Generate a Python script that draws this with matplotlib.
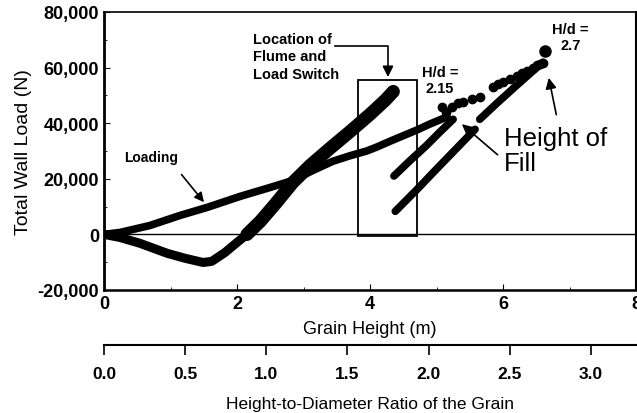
import matplotlib.pyplot as plt
from matplotlib.patches import Rectangle
from matplotlib.ticker import MultipleLocator, FuncFormatter, FixedLocator

plt.rcParams['font.family'] = ['Liberation Sans', 'DejaVu Sans']

# bin diameter (m), used for the H/d scale
diam = 2.44

# loading branch (upper), grain height (m) vs wall load (N)
load_x = [0.0, 0.24, 0.69, 1.14, 1.55, 2.05, 2.50, 2.84, 3.14, 3.44, 3.70, 3.95, 4.11, 4.30, 4.45, 4.71, 4.90, 5.01, 5.16]
load_y = [0, 700, 3200, 6800, 9700, 13700, 16900, 19400, 23000, 26300, 28300, 30000, 31500, 33500, 35000, 37600, 39700, 40800, 42300]

# sparse points after the switch (H/d 2.15 -> 2.7)
fill_x = [5.08, 5.14, 5.23, 5.32, 5.40, 5.53, 5.65, 5.85, 5.92, 6.00, 6.11, 6.21, 6.29, 6.36, 6.45, 6.51, 6.56, 6.60]
fill_y = [46000, 44000, 46000, 47100, 47800, 48600, 49300, 53200, 54000, 55000, 55800, 56800, 57900, 58600, 59700, 60800, 61200, 61700]
top_x = [6.63]
top_y = [65800]

# dip and steep branch
dip_x = [0.0, 0.24, 0.54, 0.95, 1.22, 1.49, 1.62, 1.82, 2.00, 2.15]
dip_y = [0, -1100, -3200, -6800, -8600, -10100, -9700, -6500, -2900, 0]
steep_x = [2.15, 2.35, 2.57, 2.84, 3.10, 3.40, 3.70, 4.00, 4.23, 4.35]
steep_y = [0, 4700, 10800, 18700, 24800, 31000, 37000, 43200, 48300, 51400]

# short runs after the switch
c_x = [4.36, 4.60, 4.85, 5.05, 5.25]
c_y = [21000, 26500, 32000, 36800, 41400]
d1_x = [4.38, 4.70, 5.00, 5.30, 5.58]
d1_y = [8300, 16000, 23500, 30900, 37800]
d2_x = [5.65, 5.90, 6.20, 6.45, 6.60]
d2_y = [41400, 47000, 53500, 58800, 61900]

x_ticks = [0, 2, 4, 6, 8]
y_ticks = [-20000, 0, 20000, 40000, 60000, 80000]
hd_ticks = [0.0, 0.5, 1.0, 1.5, 2.0, 2.5, 3.0]

fig = plt.figure(figsize=(6.37, 4.14), dpi=100)
ax = fig.add_axes([104 / 637, 123 / 414, 532 / 637, 278 / 414])

k = 'black'
ax.axhline(0, color=k, lw=1.0, zorder=1)
ax.plot(load_x, load_y, '-', color=k, lw=5.5, solid_capstyle='round')
ax.plot(fill_x, fill_y, 'o', color=k, ms=6)
ax.plot(top_x, top_y, 'o', color=k, ms=8)
ax.plot(dip_x, dip_y, '-', color=k, lw=6.5, solid_capstyle='round')
ax.plot(steep_x, steep_y, '-', color=k, lw=9.5, solid_capstyle='round')
ax.plot([steep_x[-1]], [steep_y[-1]], 'o', color=k, ms=7)
ax.plot(c_x, c_y, '-', color=k, lw=5.5, solid_capstyle='round')
ax.plot(d1_x, d1_y, '-', color=k, lw=5.5, solid_capstyle='round')
ax.plot(d2_x, d2_y, '-', color=k, lw=5.5, solid_capstyle='round')

ax.add_patch(Rectangle((3.82, -700), 0.89, 56100, fill=False, ec=k, lw=1.3))

ax.set_xlim(0, 8)
ax.set_ylim(-20000, 80000)
ax.set_xticks(x_ticks)
ax.set_yticks(y_ticks)
ax.xaxis.set_minor_locator(MultipleLocator(1))
ax.yaxis.set_minor_locator(MultipleLocator(10000))
ax.yaxis.set_major_formatter(FuncFormatter(lambda v, p: f'{int(v):,}'))
ax.tick_params(which='both', direction='in', labelsize=13)
ax.tick_params(which='major', length=4)
ax.tick_params(which='minor', length=2.5)
for lab in ax.get_xticklabels() + ax.get_yticklabels():
    lab.set_fontweight('bold')
ax.spines['left'].set_linewidth(2)
ax.spines['bottom'].set_linewidth(1.8)
ax.spines['right'].set_linewidth(1.5)
ax.spines['top'].set_linewidth(1.2)

ax.set_xlabel('Grain Height (m)', fontsize=13, labelpad=6)
ax.set_ylabel('Total Wall Load (N)', fontsize=14, labelpad=4)

sec = ax.secondary_xaxis(-0.198, functions=(lambda h: h / diam, lambda r: r * diam))
sec.xaxis.set_major_locator(FixedLocator(hd_ticks))
sec.xaxis.set_major_formatter(FuncFormatter(lambda v, p: f'{v:.1f}'))
sec.tick_params(direction='out', length=7, width=1.2, labelsize=12.5, pad=8)
for lab in sec.get_xticklabels():
    lab.set_fontweight('bold')
sec.spines['bottom'].set_linewidth(1.5)
sec.set_xlabel('Height-to-Diameter Ratio of the Grain', fontsize=12.5, labelpad=11)

bold = dict(fontsize=10.5, fontweight='bold', color=k)
ax.text(0.30, 28000, 'Loading', ha='left', va='center', fontsize=10,
        fontweight='bold', color=k)
ax.annotate('', xy=(1.53, 10800), xytext=(1.14, 22300),
            arrowprops=dict(arrowstyle='-|>', color=k, lw=1.2, mutation_scale=14))

ax.text(2.24, 72800, 'Location of\nFlume and\nLoad Switch', ha='left', va='top',
        linespacing=1.3, **bold)
ax.plot([3.47, 4.27, 4.27], [67600, 67600, 62000], color=k, lw=1.2)
ax.annotate('', xy=(4.27, 55600), xytext=(4.27, 62500),
            arrowprops=dict(arrowstyle='-|>', color=k, lw=1.2, mutation_scale=16))

ax.text(5.05, 61000, 'H/d =\n2.15', ha='center', va='top', linespacing=1.2, **bold)
ax.text(6.74, 76500, 'H/d =', ha='left', va='top', **bold)
ax.text(6.86, 70800, '2.7', ha='left', va='top', **bold)

ax.text(6.02, 39000, 'Height of\nFill', ha='left', va='top', fontsize=18.5,
        linespacing=1.05, color=k)
ax.annotate('', xy=(5.35, 40300), xytext=(5.95, 28000),
            arrowprops=dict(arrowstyle='-|>', color=k, lw=1.2, mutation_scale=16))
ax.annotate('', xy=(6.68, 57300), xytext=(6.81, 42100),
            arrowprops=dict(arrowstyle='-|>', color=k, lw=1.2, mutation_scale=16))

fig.savefig('out.png', dpi=100)
